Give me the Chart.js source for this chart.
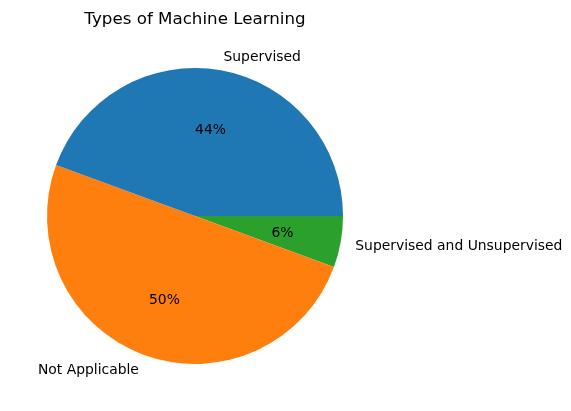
<!DOCTYPE html>
<html>
<head>
<meta charset="utf-8">
<script src="https://cdn.jsdelivr.net/npm/chart.js@4/dist/chart.umd.min.js"></script>
<style>
html,body{margin:0;padding:0;background:#fff;}
canvas{display:block;}
</style>
</head>
<body>
<canvas id="c" width="571" height="411"></canvas>
<script>
const chartTitle = "Types of Machine Learning";
const categories = ["Supervised", "Not Applicable", "Supervised and Unsupervised"];
const values = [44.4, 50.0, 5.6];
const colors = ["#1f77b4", "#ff7f0e", "#2ca02c"];

// matplotlib draws counter-clockwise from 3 o'clock; Chart.js draws clockwise, so reverse order
const order = categories.map((_, i) => i).reverse();
const total = values.reduce((a, b) => a + b, 0);

const labelPlugin = {
  id: 'mplLabels',
  afterDraw(chart) {
    const ctx = chart.ctx;
    const meta = chart.getDatasetMeta(0);
    const dy = 1.5;
    ctx.save();
    ctx.fillStyle = '#000';
    ctx.font = '16.7px "DejaVu Sans"';
    ctx.textAlign = 'center';
    ctx.textBaseline = 'middle';
    const a0 = meta.data[0];
    ctx.fillText(chartTitle, a0.x, 18 + dy);
    ctx.font = '13.9px "DejaVu Sans"';
    meta.data.forEach((arc, j) => {
      const idx = order[j];
      const mid = (arc.startAngle + arc.endAngle) / 2;
      const r = arc.outerRadius;
      const lx = arc.x + 1.1 * r * Math.cos(mid);
      const ly = arc.y + 1.1 * r * Math.sin(mid);
      ctx.textAlign = Math.cos(mid) >= 0 ? 'left' : 'right';
      ctx.textBaseline = 'middle';
      ctx.fillText(categories[idx], lx, ly + dy);
      const px = arc.x + 0.6 * r * Math.cos(mid);
      const py = arc.y + 0.6 * r * Math.sin(mid);
      ctx.textAlign = 'center';
      ctx.fillText(Math.round(values[idx] / total * 100) + '%', px, py + dy);
    });
    ctx.restore();
  }
};

new Chart(document.getElementById('c'), {
  type: 'pie',
  data: {
    labels: order.map(i => categories[i]),
    datasets: [{
      data: order.map(i => values[i]),
      backgroundColor: order.map(i => colors[i]),
      borderWidth: 0
    }]
  },
  options: {
    responsive: false,
    animation: false,
    rotation: 90,
    layout: { padding: { left: 47, right: 228, top: 68, bottom: 47 } },
    plugins: {
      legend: { display: false },
      title: { display: false },
      tooltip: { enabled: false }
    }
  },
  plugins: [labelPlugin]
});
</script>
</body>
</html>
